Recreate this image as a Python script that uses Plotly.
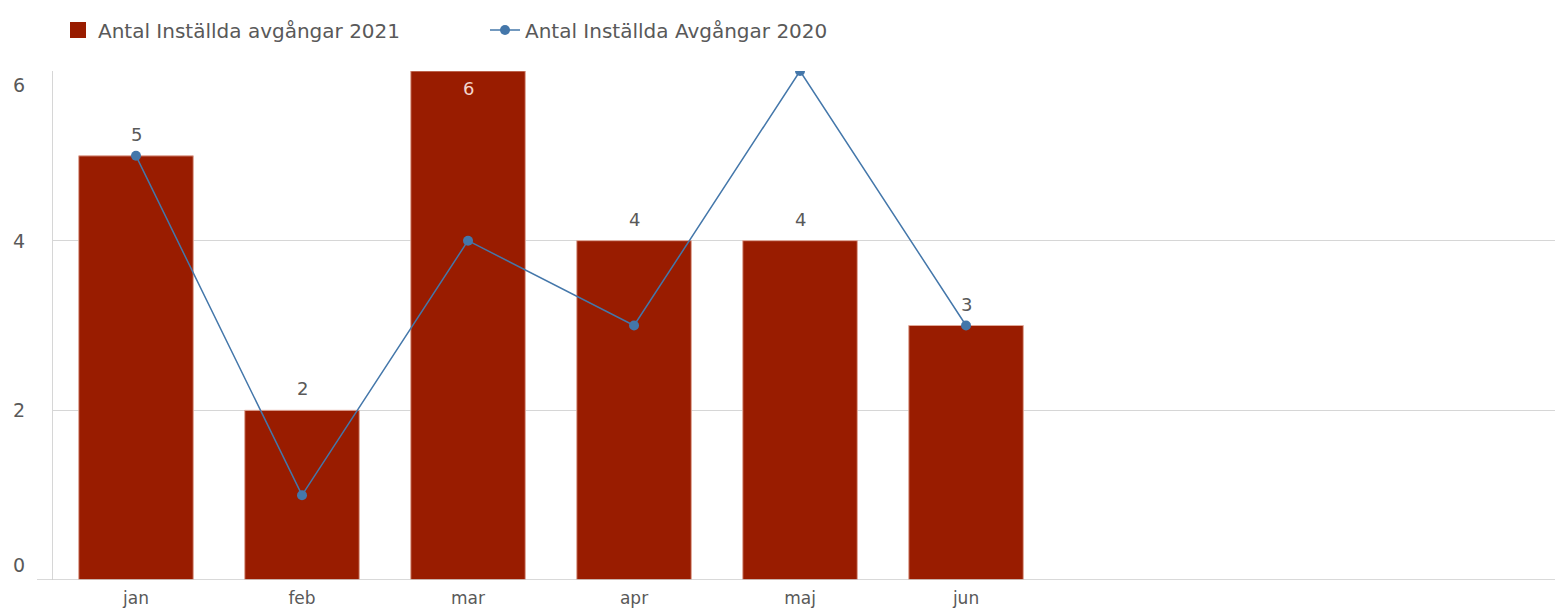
import plotly.graph_objects as go

months = ["jan", "feb", "mar", "apr", "maj", "jun"]
cancel_2021 = [5, 2, 6, 4, 4, 3]
cancel_2020 = [5, 1, 4, 3, 6, 3]
y_ticks = [0, 2, 4, 6]

BAR = "#991c00"
LINE = "#4477aa"
TXT = "#595959"
FONT = "DejaVu Sans"
NAME_21 = "Antal Inställda avgångar 2021"
NAME_20 = "Antal Inställda Avgångar 2020"

# the page body adds an 8px offset; figure size/margins compensate
W, H = 1555, 605
ML, MT, MB = 45, 63, 33

fig = go.Figure()
fig.add_trace(go.Bar(
    x=months, y=cancel_2021, name=NAME_21, showlegend=False, legendgroup="a",
    marker=dict(color=BAR, line=dict(color="#e0a898", width=1)),
    width=0.69,
))
# legend proxy with a larger square swatch
fig.add_trace(go.Scatter(
    x=[None], y=[None], name=NAME_21, mode="markers", legendgroup="a",
    marker=dict(color=BAR, symbol="square", size=17),
))
fig.add_trace(go.Scatter(
    x=months, y=cancel_2020, name=NAME_20,
    mode="lines+markers",
    line=dict(color=LINE, width=1.5),
    marker=dict(color=LINE, size=10),
))

# data labels for the bars
for m, v in zip(months, cancel_2021):
    if v >= max(y_ticks):
        fig.add_annotation(x=m, y=v, text=str(v), showarrow=False, yanchor="top",
                           yshift=-5, font=dict(family=FONT, size=18, color="#f2d5cc"))
    else:
        fig.add_annotation(x=m, y=v, text=str(v), showarrow=False, yanchor="bottom",
                           yshift=9, font=dict(family=FONT, size=18, color=TXT))

# y tick labels (edge labels pulled inward as in the original)
for t in y_ticks:
    shift = 0
    if t == max(y_ticks):
        shift = -14
    elif t == min(y_ticks):
        shift = 15
    fig.add_annotation(x=0, xref="paper", xanchor="right", xshift=-26, y=t, yref="y",
                       yshift=shift, text=str(t), showarrow=False,
                       font=dict(family=FONT, size=19, color=TXT))

# baseline extends slightly left of the y axis
fig.add_shape(type="line", xref="paper", yref="y", x0=-16 / (W - ML), x1=1, y0=0, y1=0,
              line=dict(color="#cccccc", width=1.5))

fig.update_layout(
    width=W, height=H,
    margin=dict(l=ML, r=0, t=MT, b=MB, autoexpand=False),
    paper_bgcolor="white", plot_bgcolor="white",
    font=dict(family=FONT, size=18, color=TXT),
    showlegend=True,
    legend=dict(orientation="h", xref="container", yref="container",
                x=50 / W, y=1 - 22 / H, xanchor="left", yanchor="middle",
                font=dict(family=FONT, size=20, color=TXT),
                itemwidth=30, traceorder="normal",
                entrywidth=382, entrywidthmode="pixels"),
    bargap=0.31,
)
fig.update_xaxes(
    type="category", range=[-0.5, 8.596],
    showgrid=False, showline=False, zeroline=False,
    ticks="outside", ticklen=3, tickcolor="rgba(0,0,0,0)",
    tickfont=dict(family=FONT, size=17, color=TXT),
)
fig.update_yaxes(
    range=[0, 6], tickvals=y_ticks, showticklabels=False,
    showgrid=True, gridcolor="#d6d6d6", gridwidth=1,
    zeroline=False, showline=True, linecolor="#d6d6d6", linewidth=1,
)

fig.write_html("out.html")
